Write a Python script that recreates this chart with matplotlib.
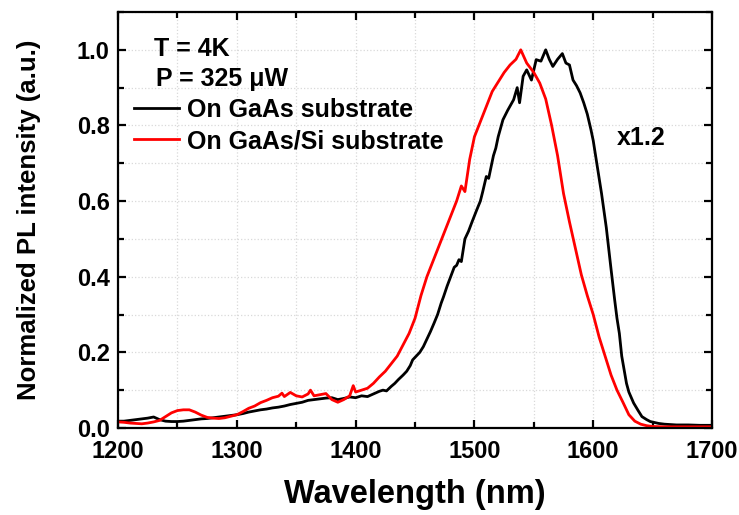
"""PL spectra at 4 K: QD layer grown on GaAs vs GaAs/Si substrate."""
import matplotlib
matplotlib.use("Agg")
import matplotlib.pyplot as plt
import matplotlib.ticker as mticker

# Spectra (nm, normalized intensity)
wl_gaas = [1200, 1205, 1210, 1215, 1220, 1225, 1230, 1235, 1240, 1245, 1250, 1255,
           1260, 1265, 1270, 1275, 1280, 1285, 1290, 1295, 1300, 1305, 1310, 1315,
           1320, 1325, 1330, 1335, 1340, 1345, 1350, 1355, 1360, 1365, 1370, 1375,
           1380, 1385, 1390, 1395, 1400, 1405, 1410, 1415, 1420, 1423, 1426, 1430,
           1433, 1436, 1440, 1443, 1446, 1448, 1451, 1454, 1457, 1460, 1463, 1466,
           1469, 1472, 1474, 1477, 1480, 1483, 1485, 1487, 1489, 1492, 1495, 1498,
           1502, 1505, 1507, 1510, 1512, 1514, 1516, 1518, 1520, 1524, 1528, 1533,
           1536, 1538, 1541, 1544, 1548, 1552, 1556, 1560, 1563, 1566, 1570, 1574,
           1577, 1580, 1583, 1586, 1589, 1592, 1595, 1598, 1600, 1604, 1607, 1611,
           1615, 1618, 1620, 1622, 1624, 1628, 1630, 1634, 1638, 1641, 1645, 1648,
           1655, 1660, 1670, 1680, 1690, 1700]
pl_gaas = [0.018, 0.018, 0.020, 0.022, 0.024, 0.026, 0.029, 0.022, 0.018, 0.017, 0.017, 0.018,
           0.020, 0.022, 0.024, 0.025, 0.027, 0.029, 0.031, 0.033, 0.035, 0.038, 0.042, 0.045,
           0.048, 0.050, 0.053, 0.055, 0.058, 0.062, 0.065, 0.068, 0.073, 0.075, 0.077, 0.079,
           0.080, 0.075, 0.078, 0.082, 0.080, 0.085, 0.083, 0.090, 0.097, 0.100, 0.098, 0.110,
           0.118, 0.128, 0.140, 0.150, 0.165, 0.180, 0.190, 0.200, 0.215, 0.235, 0.255, 0.277,
           0.300, 0.330, 0.347, 0.375, 0.400, 0.425, 0.430, 0.445, 0.440, 0.500, 0.520, 0.545,
           0.577, 0.600, 0.625, 0.665, 0.660, 0.690, 0.720, 0.740, 0.770, 0.815, 0.840, 0.868,
           0.900, 0.860, 0.930, 0.947, 0.920, 0.974, 0.970, 1.000, 0.975, 0.956, 0.975, 0.990,
           0.965, 0.960, 0.920, 0.905, 0.886, 0.860, 0.830, 0.790, 0.760, 0.680, 0.620, 0.530,
           0.420, 0.340, 0.290, 0.250, 0.190, 0.118, 0.095, 0.066, 0.045, 0.030, 0.022, 0.017,
           0.012, 0.010, 0.008, 0.008, 0.007, 0.007]

wl_si = [1200, 1205, 1210, 1215, 1220, 1225, 1230, 1235, 1240, 1245, 1250, 1255,
         1260, 1265, 1270, 1275, 1280, 1285, 1290, 1295, 1300, 1305, 1310, 1315,
         1320, 1325, 1330, 1335, 1338, 1340, 1345, 1350, 1355, 1360, 1362, 1365,
         1370, 1375, 1380, 1385, 1390, 1395, 1398, 1400, 1405, 1410, 1415, 1420,
         1425, 1430, 1435, 1440, 1445, 1450, 1455, 1460, 1465, 1470, 1475, 1480,
         1485, 1489, 1492, 1496, 1500, 1505, 1510, 1515, 1520, 1525, 1530, 1535,
         1539, 1544, 1550, 1555, 1560, 1565, 1570, 1575, 1580, 1585, 1590, 1595,
         1600, 1605, 1610, 1615, 1620, 1625, 1630, 1635, 1640, 1645, 1650, 1660,
         1680, 1700]
pl_si = [0.016, 0.015, 0.013, 0.012, 0.011, 0.013, 0.016, 0.020, 0.030, 0.040, 0.046, 0.048,
         0.048, 0.042, 0.034, 0.028, 0.026, 0.025, 0.027, 0.031, 0.035, 0.043, 0.052, 0.058,
         0.067, 0.073, 0.080, 0.084, 0.092, 0.083, 0.094, 0.085, 0.082, 0.090, 0.100, 0.085,
         0.088, 0.091, 0.075, 0.068, 0.075, 0.085, 0.112, 0.095, 0.100, 0.105, 0.118, 0.135,
         0.150, 0.170, 0.190, 0.220, 0.250, 0.290, 0.350, 0.400, 0.440, 0.480, 0.520, 0.560,
         0.600, 0.640, 0.625, 0.710, 0.770, 0.810, 0.850, 0.890, 0.915, 0.940, 0.960, 0.975,
         1.000, 0.965, 0.940, 0.912, 0.870, 0.800, 0.720, 0.620, 0.545, 0.475, 0.405, 0.350,
         0.300, 0.240, 0.190, 0.140, 0.100, 0.068, 0.035, 0.018, 0.010, 0.006, 0.004, 0.003,
         0.003, 0.003]

plt.rcParams.update({
    "font.family": ["Liberation Sans", "DejaVu Sans"],
    "font.weight": "bold",
    "axes.linewidth": 1.6,
    "xtick.direction": "in",
    "ytick.direction": "in",
    "xtick.top": True,
    "ytick.right": True,
    "xtick.major.size": 6,
    "ytick.major.size": 6,
    "xtick.minor.size": 4,
    "ytick.minor.size": 4,
    "xtick.major.width": 1.6,
    "ytick.major.width": 1.6,
    "xtick.minor.width": 1.6,
    "ytick.minor.width": 1.6,
})

fig = plt.figure(figsize=(7.39, 5.15), dpi=100)
ax = fig.add_axes([0.1597, 0.169, 0.8038, 0.8077])

ax.plot(wl_gaas, pl_gaas, color="black", lw=2.0, label="On GaAs substrate")
ax.plot(wl_si, pl_si, color="#ff0000", lw=2.0, label="On GaAs/Si substrate")

ax.set_xlim(1200, 1700)
ax.set_ylim(0, 1.1)
ax.xaxis.set_major_locator(mticker.MultipleLocator(100))
ax.xaxis.set_minor_locator(mticker.MultipleLocator(50))
ax.yaxis.set_major_locator(mticker.MultipleLocator(0.2))
ax.yaxis.set_minor_locator(mticker.MultipleLocator(0.1))
ax.yaxis.set_major_formatter(mticker.FormatStrFormatter("%.1f"))
ax.grid(which="both", color="#d9d9d9", linestyle=":", linewidth=0.9)
ax.set_axisbelow(True)
ax.tick_params(axis="x", labelsize=17, pad=8.5)
ax.tick_params(axis="y", labelsize=17, pad=6)

ax.set_xlabel("Wavelength (nm)", fontsize=23.5, fontweight="bold", labelpad=12)
ax.set_ylabel("Normalized PL intensity (a.u.)", fontsize=18.5, fontweight="bold", labelpad=26)

ax.text(0.06, 0.91, "T = 4K", transform=ax.transAxes, fontsize=18,
        fontweight="bold", va="center")
ax.text(0.064, 0.84, "P = 325 \u03bcW", transform=ax.transAxes, fontsize=18,
        fontweight="bold", va="center")
ax.text(0.84, 0.697, "x1.2", transform=ax.transAxes, fontsize=18,
        fontweight="bold", va="center")

ax.legend(loc="upper left", bbox_to_anchor=(-0.003, 0.836), frameon=False,
          fontsize=18, handlelength=1.8, handletextpad=0.35, labelspacing=0.3,
          borderaxespad=0.3)

fig.savefig("out.png", dpi=100)
